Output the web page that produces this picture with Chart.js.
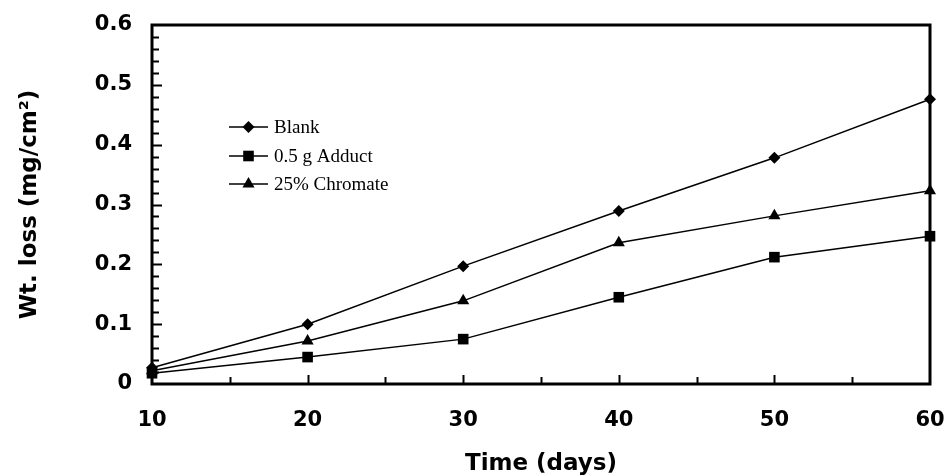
<!DOCTYPE html>
<html>
<head>
<meta charset="utf-8">
<script src="https://cdn.jsdelivr.net/npm/chart.js@4.4.0/dist/chart.umd.min.js"></script>
<style>
  html, body { margin: 0; padding: 0; background: #fff; }
  #wrap { width: 944px; height: 476px; }
</style>
</head>
<body>
<div id="wrap"><canvas id="lossChart"></canvas></div>
<script>
// values
const days = [10, 20, 30, 40, 50, 60];
const blank = [0.027, 0.100, 0.197, 0.289, 0.378, 0.476];
const adduct = [0.018, 0.045, 0.075, 0.145, 0.212, 0.247];
const chromate = [0.022, 0.072, 0.139, 0.236, 0.281, 0.323];
const seriesNames = ['Blank', '0.5 g Adduct', '25% Chromate'];

const AXIS_FONT = 'DejaVu Sans';
const CHART_LEFT = 152;   // where the y axis sits
const CHART_BOTTOM = 384; // where the x axis sits

function toPoints(ys) {
    return days.map((d, i) => ({ x: d, y: ys[i] }));
}

function seriesStyle(label, ys, pointStyle, radius) {
    return {
        label: label,
        data: toPoints(ys),
        borderColor: '#000',
        backgroundColor: '#000',
        borderWidth: 1.5,
        pointStyle: pointStyle,
        pointRadius: radius,
        pointBorderWidth: 0,
        tension: 0,
        clip: false
    };
}

// box round the plot plus the little inward ticks
const framePlugin = {
    id: 'frame',
    beforeDatasetsDraw(chart) {
        const { ctx, chartArea: a, scales: { x, y } } = chart;
        ctx.save();
        ctx.strokeStyle = '#000';
        ctx.lineWidth = 3;
        ctx.strokeRect(a.left, a.top, a.right - a.left, a.bottom - a.top);

        ctx.lineWidth = 2;
        ctx.beginPath();
        // y ticks every 0.02, longer on each 0.1
        for (let i = 1; i < 30; i++) {
            const py = Math.round(y.getPixelForValue(i * 0.02)) + 0.5;
            const len = i % 5 === 0 ? 10 : 7;
            ctx.moveTo(a.left, py);
            ctx.lineTo(a.left + len, py);
        }
        // x ticks every 5 days
        for (let d = 15; d < 60; d += 5) {
            const px = Math.round(x.getPixelForValue(d)) + 0.5;
            const len = d % 10 === 0 ? 9 : 7;
            ctx.moveTo(px, a.bottom);
            ctx.lineTo(px, a.bottom - len);
        }
        ctx.stroke();
        ctx.restore();
    }
};

// legend sits inside the plot, upper left
const legendPlugin = {
    id: 'innerLegend',
    afterDatasetsDraw(chart) {
        const { ctx } = chart;
        const x0 = 229, x1 = 268, textX = 274;
        const rows = [127, 156, 184];
        ctx.save();
        chart.data.datasets.forEach((ds, i) => {
            const yy = rows[i];
            ctx.strokeStyle = '#000';
            ctx.lineWidth = 1.5;
            ctx.beginPath();
            ctx.moveTo(x0, yy);
            ctx.lineTo(x1, yy);
            ctx.stroke();
            ctx.fillStyle = '#000';
            Chart.helpers.drawPoint(ctx, {
                pointStyle: ds.pointStyle,
                radius: ds.pointRadius,
                borderWidth: 0,
                rotation: 0
            }, (x0 + x1) / 2, yy);
            ctx.font = '19px "Liberation Serif"';
            ctx.textBaseline = 'middle';
            ctx.fillText(seriesNames[i], textX, yy + 1);
        });
        ctx.restore();
    }
};

const chart = new Chart(document.getElementById('lossChart'), {
    type: 'line',
    data: {
        datasets: [
            seriesStyle(seriesNames[0], blank, 'rectRot', 6),
            seriesStyle(seriesNames[1], adduct, 'rect', 7.5),
            seriesStyle(seriesNames[2], chromate, 'triangle', 7)
        ]
    },
    options: {
        responsive: true,
        maintainAspectRatio: false,
        animation: false,
        layout: { padding: { top: 25, right: 14, left: 0, bottom: 0 } },
        plugins: {
            legend: { display: false },
            tooltip: { enabled: false }
        },
        scales: {
            x: {
                type: 'linear',
                min: 10,
                max: 60,
                grid: { display: false, drawTicks: false },
                border: { display: false },
                ticks: {
                    stepSize: 10,
                    padding: 24,
                    color: '#000',
                    font: { family: AXIS_FONT, size: 21, weight: 'bold' }
                },
                title: {
                    display: true,
                    text: 'Time (days)',
                    color: '#000',
                    padding: { top: 0, bottom: -2 },
                    font: { family: AXIS_FONT, size: 23, weight: 'bold' }
                },
                afterFit(scale) {
                    scale.height = 476 - CHART_BOTTOM;
                    scale.paddingLeft = 0;
                    scale.paddingRight = 0;
                }
            },
            y: {
                min: 0,
                max: 0.6,
                grid: { display: false, drawTicks: false },
                border: { display: false },
                ticks: {
                    stepSize: 0.1,
                    padding: 20,
                    color: '#000',
                    font: { family: AXIS_FONT, size: 21, weight: 'bold' }
                },
                title: {
                    display: true,
                    text: 'Wt. loss (mg/cm²)',
                    color: '#000',
                    padding: { top: 16, bottom: 0 },
                    font: { family: AXIS_FONT, size: 23, weight: 'bold' }
                },
                afterFit(scale) {
                    scale.width = CHART_LEFT;
                    scale.paddingTop = 0;
                    scale.paddingBottom = 0;
                }
            }
        }
    },
    plugins: [framePlugin, legendPlugin]
});
</script>
</body>
</html>
